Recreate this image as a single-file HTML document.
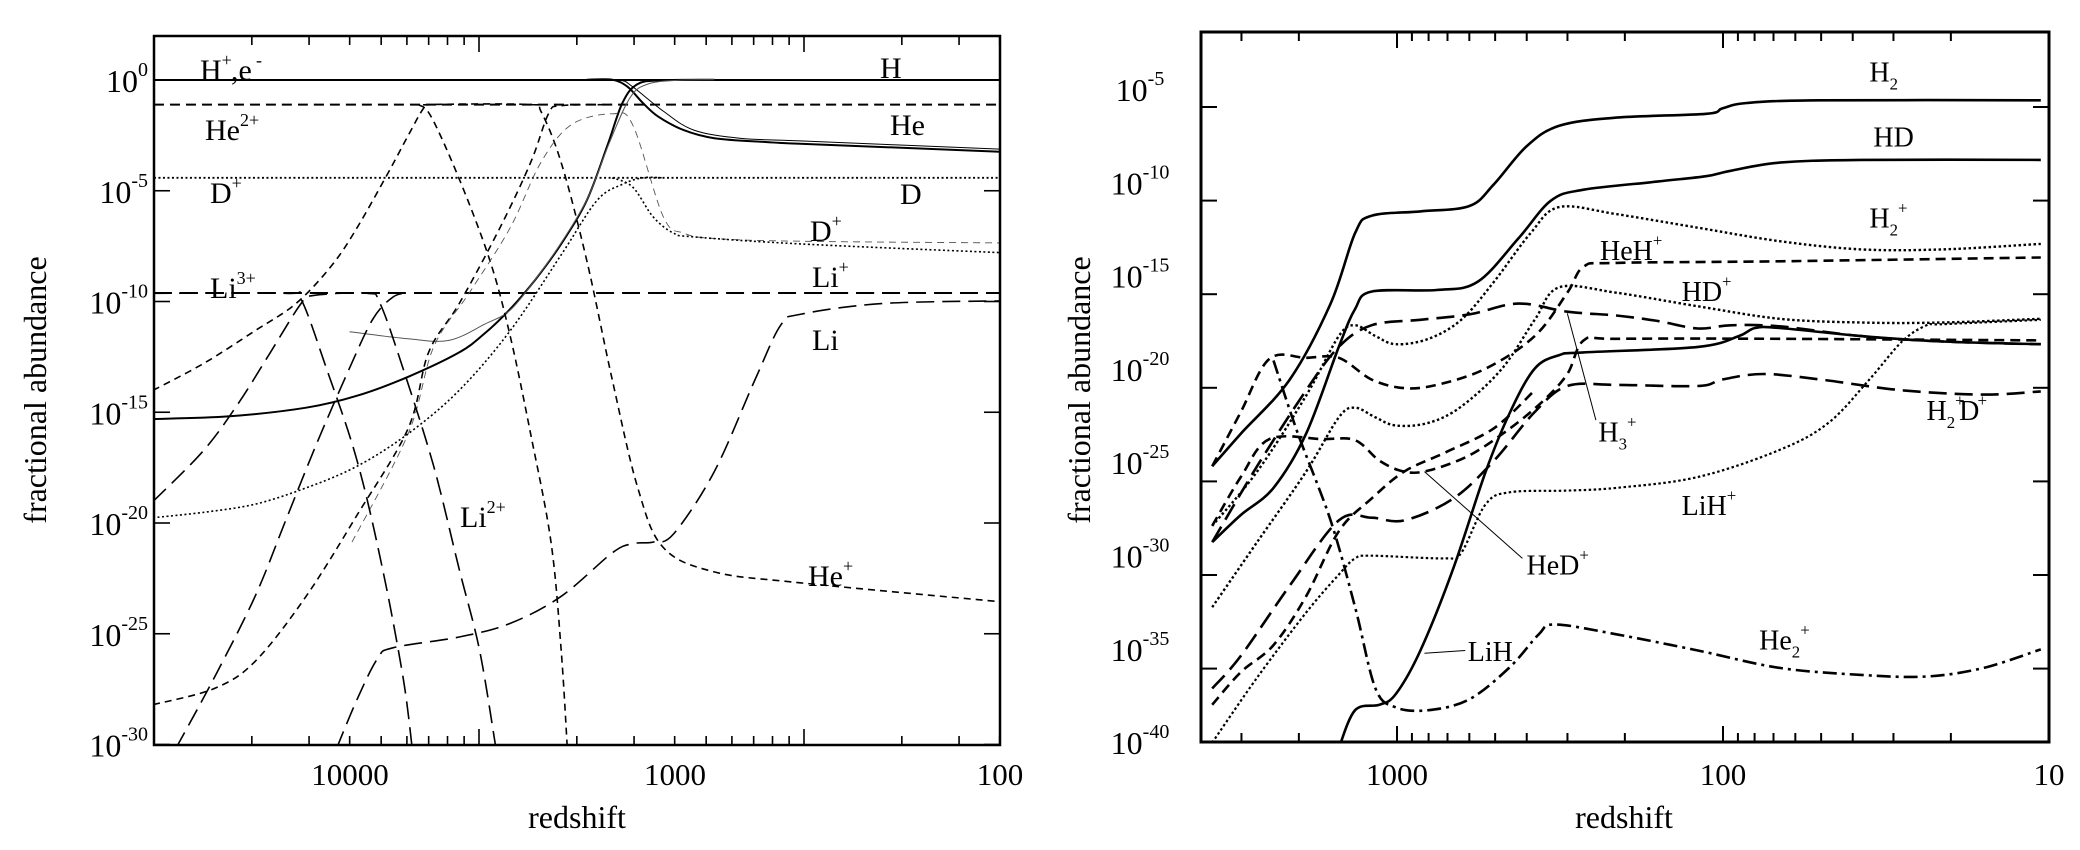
<!DOCTYPE html>
<html><head><meta charset="utf-8"><style>
html,body{margin:0;padding:0;background:#fff;}
svg{display:block;font-family:"Liberation Serif",serif;}
</style></head><body>
<svg id="s" width="2080" height="850" viewBox="0 0 2080 850" xmlns="http://www.w3.org/2000/svg">
<rect width="2080" height="850" fill="#fff"/>
<g id="g"></g>
</svg>
<script>
const NS="http://www.w3.org/2000/svg";
const g=document.getElementById('g');
function el(t,a,txt){const e=document.createElementNS(NS,t);for(const k in a)e.setAttribute(k,a[k]);if(txt!=null)e.textContent=txt;g.appendChild(e);return e;}
function smooth(p){let d="M"+p[0][0].toFixed(1)+","+p[0][1].toFixed(1);
 for(let i=0;i<p.length-1;i++){const p0=p[i-1]||p[i],p1=p[i],p2=p[i+1],p3=p[i+2]||p2;
  const c1=[p1[0]+(p2[0]-p0[0])/6,p1[1]+(p2[1]-p0[1])/6],c2=[p2[0]-(p3[0]-p1[0])/6,p2[1]-(p3[1]-p1[1])/6];
  d+="C"+c1[0].toFixed(1)+","+c1[1].toFixed(1)+" "+c2[0].toFixed(1)+","+c2[1].toFixed(1)+" "+p2[0].toFixed(1)+","+p2[1].toFixed(1);}
 return d;}
const L1=p=>p.map(q=>[q[0]*0.5102,q[1]*0.5421]);
const Z2=p=>p.map(q=>[800+q[0]*0.8163,q[1]*0.5421]);
function line(pts,w,dash,col,clip){el('path',{d:smooth(pts),fill:'none',stroke:col||'#000','stroke-width':w,'stroke-dasharray':dash||'none','clip-path':clip,'stroke-linecap':'butt'});}
const defs=document.createElementNS(NS,'defs');g.appendChild(defs);
defs.innerHTML='<clipPath id="cl"><rect x="154" y="36" width="846" height="709"/></clipPath><clipPath id="cr"><rect x="1201" y="32" width="848" height="710"/></clipPath>';
const CL='url(#cl)',CR='url(#cr)';
// ===== LEFT PANEL =====
const LW=1.6;
line([[154,80],[1000,80]],2,null,'#000',CL);
line([[154,104.6],[1000,104.6]],2,'10 6','#000',CL);
line([[154,177.8],[1000,177.8]],1.8,'2 2.5','#000',CL);
line([[154,293],[1000,293]],2,'18 8','#000',CL);
line(L1([[1150,147],[1200,147],[1230,160],[1260,190],[1290,215],[1340,240],[1400,255],[1500,262],[1568,265]]).concat(Z2([[245,280]])),2,null,'#000',CL);
line(L1([[1150,147],[1215,148],[1240,160],[1300,205],[1360,240],[1450,255],[1568,260]]).concat(Z2([[245,275]])),1,null,'#000',CL);
line(L1([[300,773],[450,768],[600,752],[700,730],[800,695],[900,650],[950,615],[1000,570],[1050,515],[1100,450],[1150,370],[1190,270],[1220,190],[1250,155],[1300,148],[1400,147]]),2,null,'#000',CL);
line(L1([[685,612],[800,625],[880,628],[950,598],[1000,572],[1052,512],[1102,445],[1152,365],[1195,262],[1235,180],[1270,155],[1330,148],[1400,147]]),1,null,'#555',CL);
line(L1([[300,720],[400,670],[500,610],[580,560],[650,490],[700,420],[760,320],[800,250],[830,200],[845,193],[1040,193],[1060,205],[1100,300],[1150,480],[1200,700],[1250,900],[1300,1010],[1400,1055],[1568,1075]]).concat(Z2([[245,1110]])),LW,'7 5','#000',CL);
line(L1([[820,193],[845,215],[900,330],[960,480],[1000,620],[1040,800],[1080,1000],[1100,1200],[1112,1380]]),LW,'7 5','#000',CL);
line(L1([[300,1300],[420,1270],[500,1220],[600,1100],[700,950],[800,790],[840,650],[900,560],[980,420],[1040,300],[1075,210],[1100,195],[1200,193]]),LW,'7 5','#000',CL);
line(L1([[690,1000],[800,800],[850,640],[920,540],[1000,420],[1060,300],[1120,230],[1200,210],[1240,230],[1300,400],[1340,430],[1400,440],[1568,445]]).concat(Z2([[245,448]])),0.9,'7 5','#555',CL);
line(L1([[300,541],[560,541],[590,552],[640,680],[700,850],[750,1050],[790,1250],[808,1380]]),LW,'18 8','#000',CL);
line(L1([[300,925],[400,830],[470,740],[530,650],[590,560],[615,545],[720,541],[745,560],[790,680],[850,860],[900,1050],[940,1200],[972,1380]]),LW,'18 8','#000',CL);
line(L1([[345,1380],[420,1250],[500,1100],[560,960],[620,820],[680,690],[730,590],[770,548],[800,541]]),LW,'18 8','#000',CL);
line(L1([[660,1380],[700,1290],[740,1215],[770,1195],[900,1175],[1000,1150],[1100,1100],[1200,1020],[1240,1003],[1280,1000],[1320,985],[1400,870],[1480,700],[1530,600],[1568,580]]).concat(Z2([[100,560],[245,555]])),LW,'18 8','#000',CL);
line(L1([[300,955],[400,945],[500,930],[600,900],[700,860],[800,800],[900,720],[1000,610],[1100,470],[1170,370],[1220,340],[1260,328],[1300,328]]),1.6,'2 2.5','#000',CL);
line(L1([[1200,328],[1240,345],[1280,400],[1320,430],[1360,437],[1568,450]]).concat(Z2([[245,466]])),1.6,'2 2.5','#000',CL);
el('rect',{x:154,y:36,width:846,height:709,fill:'none',stroke:'#000','stroke-width':2.5});
function ticksX(x1,decPx,logmin,logmax,yb,yt){for(let d=Math.floor(logmin);d<=logmax;d++)for(let m=1;m<10;m++){const v=d+Math.log10(m);if(v<logmin||v>logmax)continue;const x=x1-(logmax-v)*decPx;const len=m==1?16:9;
 el('line',{x1:x,y1:yb,x2:x,y2:yb-len,stroke:'#000','stroke-width':1.6});el('line',{x1:x,y1:yt,x2:x,y2:yt+len,stroke:'#000','stroke-width':1.6});}}
ticksX(1000,325,2,2+(846/325),745,36);
for(let k=0;k<=6;k++){const y=80+k*110.75;el('line',{x1:154,y1:y,x2:170,y2:y,stroke:'#000','stroke-width':1.6});el('line',{x1:1000,y1:y,x2:984,y2:y,stroke:'#000','stroke-width':1.6});
 const t=el('text',{x:148,y:y+12,'text-anchor':'end','font-size':32});t.innerHTML='10<tspan dy="-16" font-size="20">'+(k==0?'0':'-'+k*5)+'</tspan>';}
[['10000',350],['1000',675],['100',1000]].forEach(a=>el('text',{x:a[1],y:785,'text-anchor':'middle','font-size':31},a[0]));
el('text',{x:577,y:828,'text-anchor':'middle','font-size':32},'redshift');
el('text',{x:0,y:0,'text-anchor':'middle','font-size':32,transform:'translate(46,390) rotate(-90)'},'fractional abundance');
function lab(x,y,b,sup,sub,fs){fs=fs||30;const t=el('text',{x:x,y:y,'font-size':fs});let h=b;if(sub)h+='<tspan dy="8" font-size="'+fs*0.6+'">'+sub+'</tspan>';if(sup)h+='<tspan dy="'+(sub?-22:-14)+'" font-size="'+fs*0.6+'">'+sup+'</tspan>';t.innerHTML=h;}
lab(200,80,'H','+');el('text',{x:231,y:80,'font-size':30},',e');el('text',{x:256,y:66,'font-size':18},'-');
lab(205,140,'He','2+');lab(210,203,'D','+');lab(210,298,'Li','3+');lab(460,527,'Li','2+');
lab(880,78,'H');lab(890,135,'He');lab(900,204,'D');lab(810,241,'D','+');lab(812,287,'Li','+');lab(812,350,'Li');lab(808,586,'He','+');
// ===== RIGHT PANEL =====
const RW=2.6;
line(Z2([[505,860],[540,800],[600,700],[650,560],[680,430],[700,398],[760,390],[820,380],[850,340],[890,270],[930,232],[1000,217],[1110,210],[1130,200],[1160,190],[1250,185],[1520,185]]),RW,null,'#000',CR);
line(Z2([[505,1000],[540,950],[580,900],[620,800],[660,640],[680,570],[700,538],[780,535],[830,520],[880,440],[920,370],[960,350],[1050,335],[1110,325],[1140,315],[1200,300],[1300,295],[1520,295]]),RW,null,'#000',CR);
line(Z2([[505,970],[560,870],[620,730],[660,620],[680,600],[705,620],[730,635],[770,625],[810,590],[850,520],[895,430],[930,382],[1000,395],[1100,420],[1200,445],[1300,460],[1400,460],[1520,450]]),2.4,'2.5 2.5','#000',CR);
line(Z2([[505,1120],[560,1000],[620,870],[660,770],[680,752],[705,770],[730,785],[770,780],[810,750],[860,680],[900,590],[930,530],[1000,540],[1100,565],[1200,588],[1300,595],[1400,595],[1520,588]]),2.4,'2.5 2.5','#000',CR);
line(Z2([[505,1370],[560,1250],[620,1130],[660,1060],[680,1030],[700,1025],[790,1030],[810,1020],[840,930],[870,908],[940,905],[1000,900],[1100,880],[1200,830],[1260,780],[1310,700],[1350,630],[1380,600],[1400,598],[1520,590]]),2.2,'2.5 2.5','#000',CR);
line(Z2([[505,860],[540,760],[575,662],[620,660],[660,660],[700,700],[740,716],[780,710],[840,680],[900,620],[940,540],[960,492],[1000,485],[1200,482],[1520,475]]),RW,'10 6','#000',CR);
line(Z2([[505,970],[540,880],[575,810],[640,810],[680,812],[710,850],[740,870],[770,868],[820,840],[870,790],[910,740],[940,690],[960,628],[1000,625],[1200,625],[1520,628]]),RW,'10 6','#000',CR);
line(Z2([[580,665],[610,800],[650,960],[680,1120],[705,1270],[730,1305],[770,1310],[820,1290],[870,1230],[905,1170],[925,1152],[1000,1170],[1100,1200],[1200,1232],[1300,1245],[1380,1248],[1450,1232],[1520,1198]]),RW,'14 5 3 5','#000',CR);
line(Z2([[505,1300],[540,1240],[580,1190],[620,1100],[660,980],[700,920],[740,870],[790,835],[850,790],[900,720]]),RW,'10 6','#000',CR);
line(Z2([[505,1000],[560,860],[620,720],[660,640],[700,600],[760,590],[820,580],[880,560],[940,575],[1000,582],[1050,592],[1100,606],[1140,600],[1200,602],[1300,620],[1400,630],[1520,635]]),RW,'18 8','#000',CR);
line(Z2([[505,1270],[540,1210],[600,1080],[660,960],[700,955],[740,960],[800,920],[850,850],[900,760],[940,712],[1000,710],[1100,712],[1130,700],[1180,690],[1250,700],[1350,720],[1450,728],[1520,722]]),RW,'18 8','#000',CR);
line(Z2([[660,1380],[680,1310],[710,1300],[730,1280],[760,1200],[800,1050],[840,870],[870,760],[900,680],[930,655],[960,650],[1100,640],[1150,620],[1170,605],[1200,605],[1300,620],[1400,630],[1520,635]]),RW,null,'#000',CR);
[[[975,775],[940,578]],[[885,1030],[765,870]],[[815,1200],[765,1205]]].forEach(p=>{const a=Z2(p);el('line',{x1:a[0][0],y1:a[0][1],x2:a[1][0],y2:a[1][1],stroke:'#000','stroke-width':1});});
el('rect',{x:1201,y:32,width:848,height:710,fill:'none',stroke:'#000','stroke-width':3});
for(let d=1;d<=3;d++)for(let m=1;m<10;m++){const v=d+Math.log10(m);const x=2049-(v-1)*326;if(x<1201)continue;const len=m==1?16:9;
 el('line',{x1:x,y1:742,x2:x,y2:742-len,stroke:'#000','stroke-width':2});el('line',{x1:x,y1:32,x2:x,y2:32+len,stroke:'#000','stroke-width':2});}
for(let k=0;k<=6;k++){const y=107+k*93.6;el('line',{x1:1201,y1:y,x2:1217,y2:y,stroke:'#000','stroke-width':2});el('line',{x1:2049,y1:y,x2:2033,y2:y,stroke:'#000','stroke-width':2});}
for(let k=0;k<=7;k++){const y=89+k*93.3;
 const t=el('text',{x:1140,y:y+12,'text-anchor':'middle','font-size':32});t.innerHTML='10<tspan dy="-16" font-size="20">-'+(5+k*5)+'</tspan>';}
[['1000',1397],['100',1723],['10',2049]].forEach(a=>el('text',{x:a[1],y:785,'text-anchor':'middle','font-size':31},a[0]));
el('text',{x:1624,y:828,'text-anchor':'middle','font-size':32},'redshift');
el('text',{x:0,y:0,'text-anchor':'middle','font-size':32,transform:'translate(1090,390) rotate(-90)'},'fractional abundance');
const RL=(zx,zy,b,sup,sub)=>lab(800+zx*0.8163,zy*0.542,b,sup,sub,28);
RL(1310,150,'H',null,'2');RL(1315,270,'HD');RL(1310,420,'H','+','2');RL(980,480,'HeH','+');RL(1080,555,'HD','+');
RL(978,815,'H','+','3');RL(1380,775,'H','+','2');el('text',{x:800+1420*0.8163,y:775*0.542,'font-size':28},'D');el('text',{x:800+1440*0.8163+2,y:775*0.542-14,'font-size':17},'+');
RL(1080,950,'LiH','+');RL(890,1060,'HeD','+');RL(818,1220,'LiH');RL(1175,1198,'He','+','2');
</script>
</body></html>
